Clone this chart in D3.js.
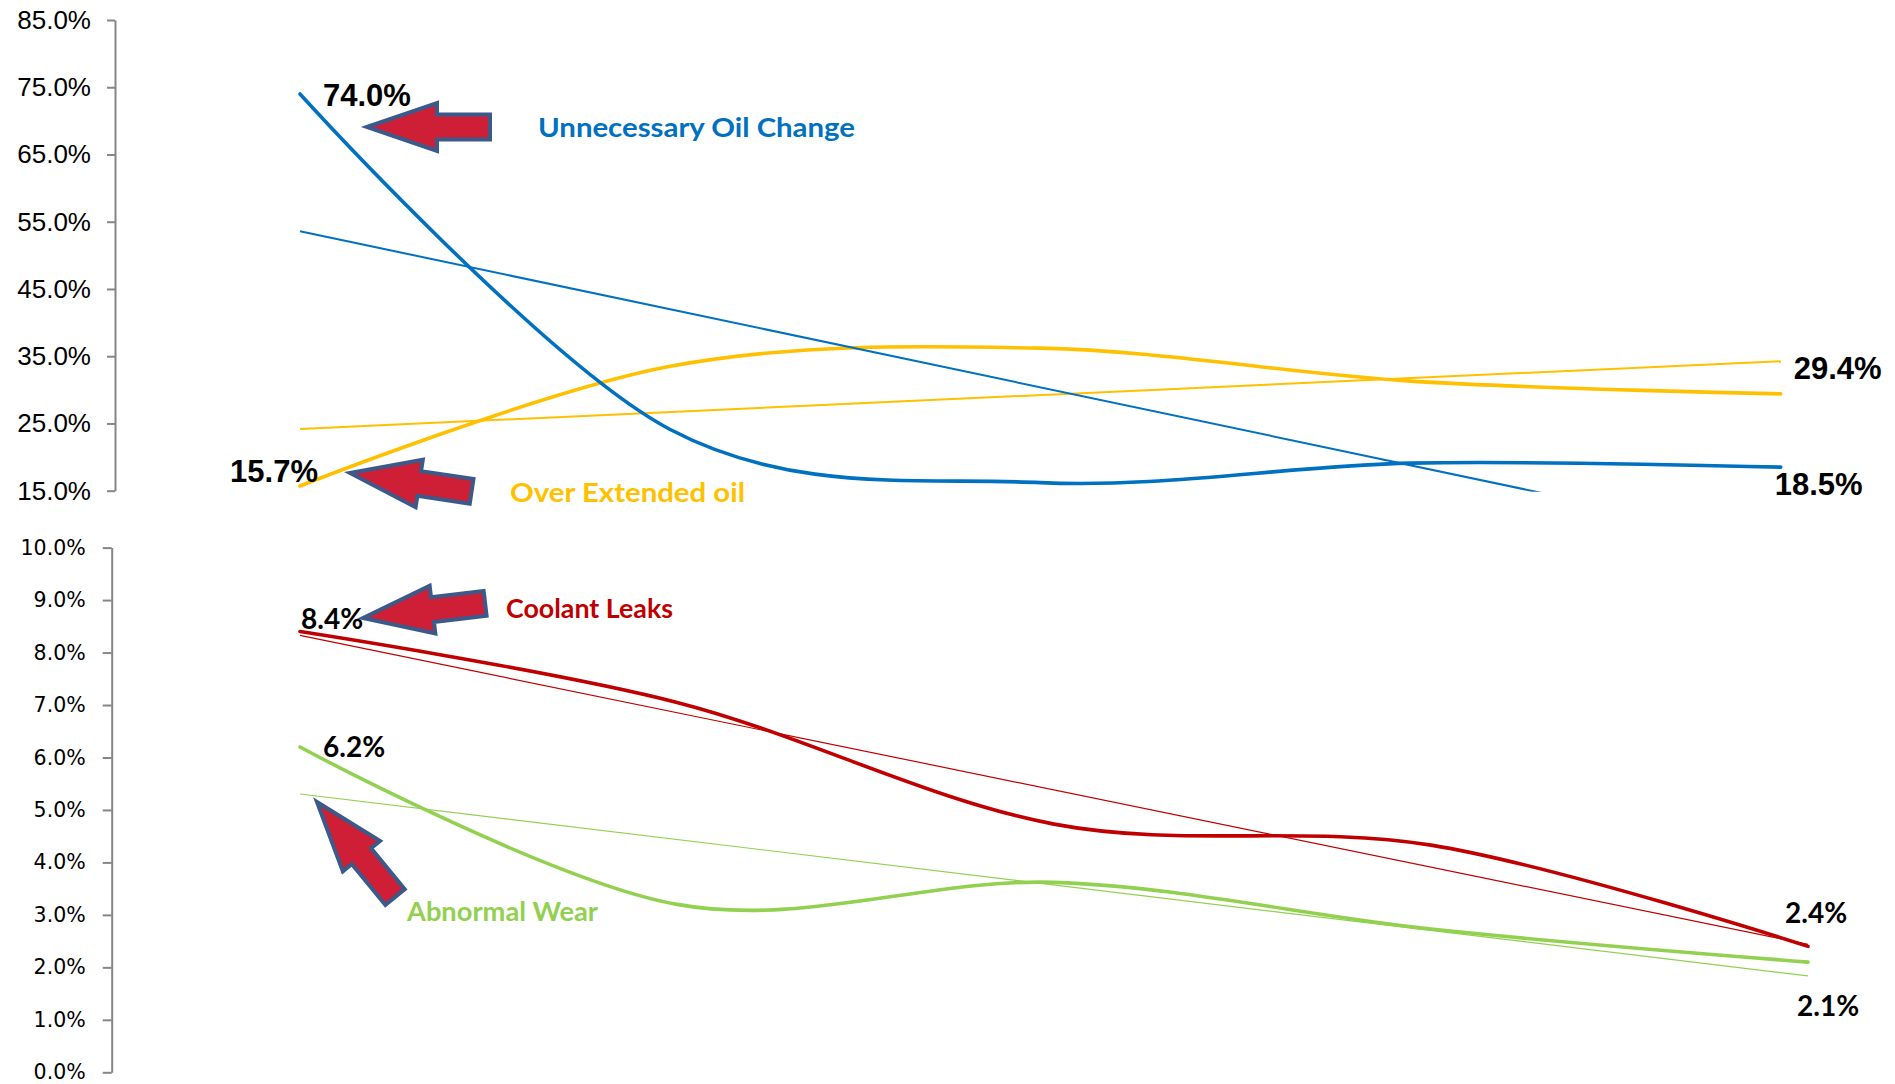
<!DOCTYPE html>
<html>
<head>
<meta charset="utf-8">
<script src="https://cdn.jsdelivr.net/npm/d3@7"></script>
<style>
  html, body { margin: 0; padding: 0; background: #fff; }
  svg { display: block; }
</style>
</head>
<body>
<svg id="chart" width="1895" height="1084"></svg>
<script>
// ── Data ─────────────────────────────────────────────────────────────────────
const periods      = ["P1", "P2", "P3", "P4", "P5"];
const oilChange    = [74.0, 24.1, 16.2, 19.1, 18.5];   // Unnecessary Oil Change
const overExtended = [15.7, 33.5, 36.2, 31.3, 29.4];   // Over Extended oil
const coolantLeaks = [8.4, 7.05, 4.73, 4.33, 2.4];
const abnormalWear = [6.2, 3.2, 3.62, 2.73, 2.1];

const topTicks    = [15, 25, 35, 45, 55, 65, 75, 85];
const bottomTicks = [0, 1, 2, 3, 4, 5, 6, 7, 8, 9, 10];

const COLORS = {
  blue:   "#0070C0",
  yellow: "#FFC000",
  red:    "#C00000",
  green:  "#92D050",
};

// ── Setup ────────────────────────────────────────────────────────────────────
const svg = d3.select("#chart");
const fmt = v => v.toFixed(1) + "%";

const xTop = d3.scalePoint().domain(periods).range([300, 1780.7]);
const yTop = d3.scaleLinear().domain([15, 85]).range([490.7, 20]);
const xBot = d3.scalePoint().domain(periods).range([300, 1808]);
const yBot = d3.scaleLinear().domain([0, 10]).range([1072.3, 547.6]);

// simple least-squares trend over the category index
function trend(values) {
  const n = values.length;
  const mx = (n - 1) / 2;
  const my = d3.mean(values);
  let sxy = 0, sxx = 0;
  values.forEach((v, i) => { sxy += (i - mx) * (v - my); sxx += (i - mx) ** 2; });
  const slope = sxy / sxx;
  return [my - slope * mx, my + slope * (n - 1 - mx)];
}

// clip for the top panel (Excel cuts the trend at the 15% floor)
svg.append("defs").append("clipPath").attr("id", "clipTop")
  .append("rect").attr("x", 116).attr("y", 0).attr("width", 1780).attr("height", yTop(15) + 1);

// ── Axes ─────────────────────────────────────────────────────────────────────
function styleAxis(g, font, size) {
  g.select(".domain").attr("stroke", "#868686").attr("stroke-width", 2);
  g.selectAll(".tick line").attr("stroke", "#868686").attr("stroke-width", 2);
  g.selectAll(".tick text")
    .attr("fill", "#000")
    .style("font-family", font)
    .style("font-size", size + "px");
  g.attr("font-family", null).attr("font-size", null);
}

svg.append("g")
  .attr("transform", "translate(115,0)")
  .call(d3.axisLeft(yTop).tickValues(topTicks).tickFormat(fmt)
    .tickSize(8).tickSizeOuter(0).tickPadding(16))
  .call(g => styleAxis(g, "'Liberation Sans', Arial, sans-serif", 26));

svg.append("g")
  .attr("transform", "translate(111.7,0)")
  .call(d3.axisLeft(yBot).tickValues(bottomTicks).tickFormat(fmt)
    .tickSize(9).tickSizeOuter(0).tickPadding(17))
  .call(g => styleAxis(g, "'DejaVu Sans', Verdana, sans-serif", 20.5));

// ── Lines ────────────────────────────────────────────────────────────────────
function drawSeries(parent, values, x, y, color, trendWidth) {
  const line = d3.line()
    .x((d, i) => x(periods[i]))
    .y(d => y(d))
    .curve(d3.curveCatmullRom.alpha(0));

  const t = trend(values);
  parent.append("line")
    .attr("x1", x(periods[0])).attr("y1", y(t[0]))
    .attr("x2", x(periods[periods.length - 1])).attr("y2", y(t[1]))
    .attr("stroke", color).attr("stroke-width", trendWidth);

  parent.append("path")
    .datum(values)
    .attr("d", line)
    .attr("fill", "none")
    .attr("stroke", color)
    .attr("stroke-width", 3.6)
    .attr("stroke-linecap", "round");
}

const topG = svg.append("g").attr("clip-path", "url(#clipTop)");
drawSeries(topG, overExtended, xTop, yTop, COLORS.yellow, 2);
drawSeries(topG, oilChange,    xTop, yTop, COLORS.blue,   2);

const botG = svg.append("g");
drawSeries(botG, coolantLeaks, xBot, yBot, COLORS.red,   1.2);
drawSeries(botG, abnormalWear, xBot, yBot, COLORS.green, 1.2);

// ── Value labels (first / last points) ───────────────────────────────────────
const ARIAL_B = "'Liberation Sans', Arial, sans-serif";
const CALIBRI_B = "Lato, 'Open Sans', sans-serif";

const valueLabels = [
  { v: oilChange[0],    i: 0, x: xTop, y: yTop, dx: 23,  dy: 12,  anchor: "start", font: ARIAL_B, size: 31 },
  { v: overExtended[0], i: 0, x: xTop, y: yTop, dx: 18,  dy: -4,  anchor: "end",   font: ARIAL_B, size: 31 },
  { v: overExtended[4], i: 4, x: xTop, y: yTop, dx: 13,  dy: -15, anchor: "start", font: ARIAL_B, size: 31 },
  { v: oilChange[4],    i: 4, x: xTop, y: yTop, dx: -6,  dy: 28,  anchor: "start", font: ARIAL_B, size: 31 },
  { v: coolantLeaks[0], i: 0, x: xBot, y: yBot, dx: 1,   dy: -3,  anchor: "start", font: CALIBRI_B, size: 28 },
  { v: abnormalWear[0], i: 0, x: xBot, y: yBot, dx: 23,  dy: 10,  anchor: "start", font: CALIBRI_B, size: 28 },
  { v: coolantLeaks[4], i: 4, x: xBot, y: yBot, dx: -23, dy: -23, anchor: "start", font: CALIBRI_B, size: 28 },
  { v: abnormalWear[4], i: 4, x: xBot, y: yBot, dx: -11, dy: 54,  anchor: "start", font: CALIBRI_B, size: 28 },
];

svg.append("g").selectAll("text")
  .data(valueLabels).enter().append("text")
  .attr("x", d => d.x(periods[d.i]) + d.dx)
  .attr("y", d => d.y(d.v) + d.dy)
  .attr("text-anchor", d => d.anchor)
  .style("font-family", d => d.font)
  .style("font-size", d => d.size + "px")
  .style("font-weight", "bold")
  .attr("fill", "#000")
  .text(d => fmt(d.v));

// ── Series names ─────────────────────────────────────────────────────────────
const seriesNames = [
  { text: "Unnecessary Oil Change", color: COLORS.blue,   x: 538, y: 137, w: 317 },
  { text: "Over Extended oil",      color: COLORS.yellow, x: 510, y: 502, w: 235 },
  { text: "Coolant Leaks",          color: COLORS.red,    x: 506, y: 618, w: 167 },
  { text: "Abnormal Wear",          color: COLORS.green,  x: 407, y: 921, w: 191 },
];

svg.append("g").selectAll("text")
  .data(seriesNames).enter().append("text")
  .attr("x", d => d.x).attr("y", d => d.y)
  .attr("textLength", d => d.w)
  .attr("lengthAdjust", "spacingAndGlyphs")
  .style("font-family", CALIBRI_B)
  .style("font-size", "27px")
  .style("font-weight", "bold")
  .attr("fill", d => d.color)
  .text(d => d.text);

// ── Block arrows ─────────────────────────────────────────────────────────────
// tip point, direction (deg) from tip towards tail
const arrows = [
  { tx: 367, ty: 127, angle: 0 },
  { tx: 350, ty: 473, angle: 8.6 },
  { tx: 363, ty: 618, angle: -6.8 },
  { tx: 317, ty: 802, angle: 50.6 },
];

function arrowPath() {
  const len = 123, head = 70, hw = 24, sw = 12.5;
  return d3.line()([
    [0, 0], [head, -hw], [head, -sw], [len, -sw],
    [len, sw], [head, sw], [head, hw],
  ]) + "Z";
}

svg.append("g").selectAll("path")
  .data(arrows).enter().append("path")
  .attr("d", arrowPath())
  .attr("transform", d => `translate(${d.tx},${d.ty}) rotate(${d.angle})`)
  .attr("fill", "#CE1F36")
  .attr("stroke", "#3B5A8A")
  .attr("stroke-width", 4)
  .attr("stroke-linejoin", "miter");
</script>
</body>
</html>
